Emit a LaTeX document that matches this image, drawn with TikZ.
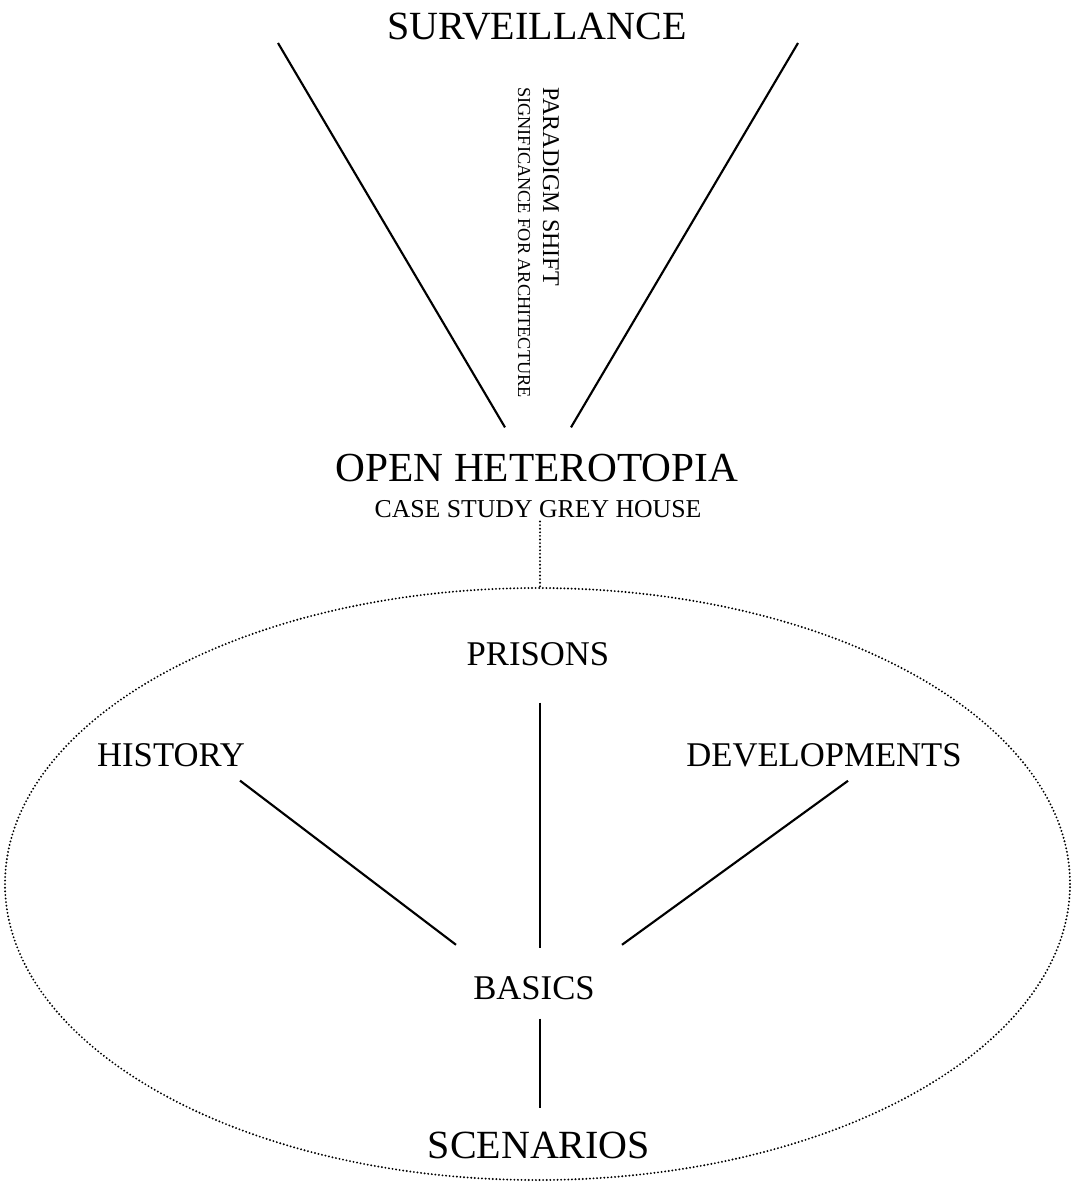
\documentclass[tikz,border=0pt]{standalone}
\usepackage{fontspec}
\setmainfont{Liberation Serif}
\usetikzlibrary{calc,shapes.geometric}
\tikzset{
  bigword/.style={font=\fontsize{30}{36}\selectfont,inner sep=0pt,anchor=base},
  word/.style={font=\fontsize{26}{31}\selectfont,inner sep=0pt,anchor=base},
  sideword/.style={inner sep=0pt,rotate=-90,anchor=base west},
  conn/.style={line width=1.6pt},
  dotconn/.style={line width=1.6pt,line cap=round,dash pattern=on 0pt off 2.7pt}
}
\begin{document}
\begin{tikzpicture}[x=0.75pt,y=-0.75pt]
 \useasboundingbox (0,0) rectangle (1074,1184);
 % upper part
 \node[bigword] (surv) at (537,40) {SURVEILLANCE};
 \coordinate (survl) at (278,43);
 \coordinate (survr) at (798,43);
 \node[sideword,font=\fontsize{18}{22}\selectfont] (shift) at (543,87) {PARADIGM SHIFT};
 \node[sideword,font=\fontsize{13.7}{16}\selectfont] (signif) at (518,87) {SIGNIFICANCE FOR ARCHITECTURE};
 \node[bigword,font=\fontsize{31}{37}\selectfont] (open) at (537,481) {OPEN HETEROTOPIA};
 \node[word,font=\fontsize{19.3}{23}\selectfont] (case) at (538,517) {CASE STUDY GREY HOUSE};
 \draw[conn] (survl) -- ($(open.north)+(-32,-26)$);
 \draw[conn] (survr) -- ($(open.north)+(34,-26)$);
 %
 \node[draw,dotconn,ellipse,inner sep=0pt,minimum width=798.75pt,minimum height=444pt] (frame) at (537.5,884) {};
 \draw[dotconn] ($(case.south)+(2,4)$) -- ($(frame.north)+(2.5,0)$);
 % inside the ellipse
 \node[word] (prisons) at (538,665) {PRISONS};
 \node[word] (history) at (171,766) {HISTORY};
 \node[word] (devel) at (824,766) {DEVELOPMENTS};
 \node[word] (basics) at (534,999) {BASICS};
 \node[bigword] (scen) at (539,1158) {SCENARIOS};
 %
 \draw[conn] ($(prisons.south)+(2,37)$) -- ($(basics.north)+(6,-28)$);
 \draw[conn] ($(history.south)+(69,14)$) -- ($(basics.north)+(-78,-31)$);
 \draw[conn] ($(devel.south)+(24,14)$) -- ($(basics.north)+(88,-31)$);
 \draw[conn] ($(basics.south)+(6,19)$) -- ($(scen.north)+(1,-23)$);
\end{tikzpicture}
\end{document}
